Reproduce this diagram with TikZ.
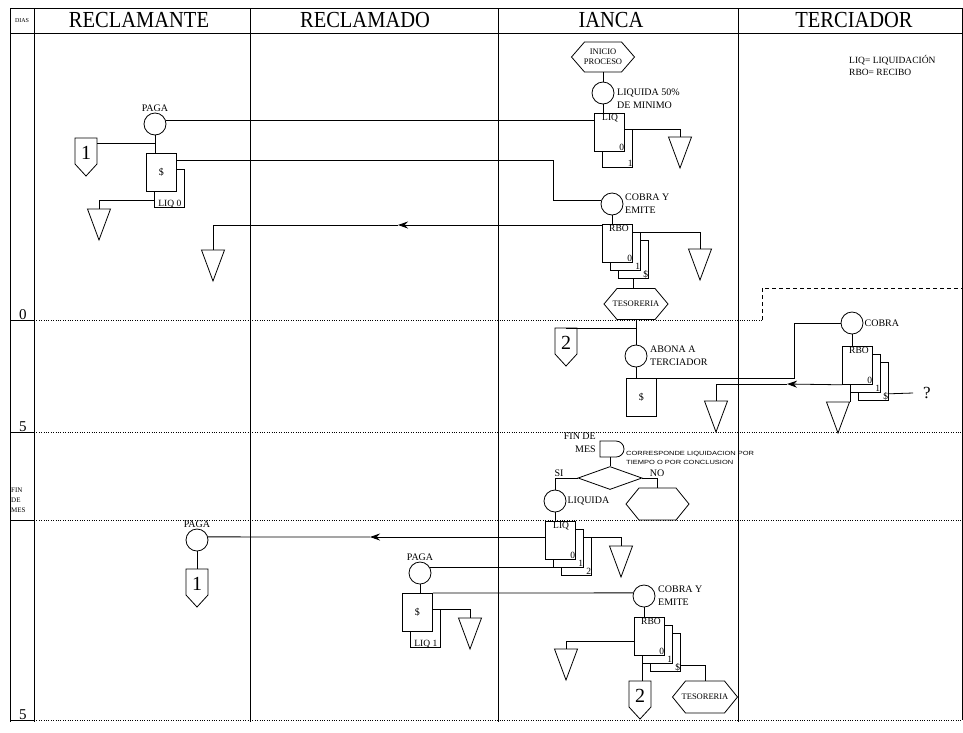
\documentclass[tikz,border=0pt]{standalone}
\usepackage{fontspec}
\usepackage{graphicx}
\setmainfont{Liberation Serif}
\newfontfamily\tinysans[FakeStretch=1.25]{Liberation Sans}
\usetikzlibrary{shapes.geometric,arrows.meta,calc}

\tikzset{
 ln/.style={line width=0.8pt},
 lane/.style={line width=1pt},
 dotl/.style={line width=0.8pt, dash pattern=on 0.8pt off 1.6pt},
 dashl/.style={line width=0.8pt, dash pattern=on 4pt off 3pt},
 circ/.style={draw, circle, minimum size=22pt, inner sep=0pt, line width=0.8pt, fill=white},
 lab/.style={font=\fontsize{10}{13}\selectfont, inner sep=0pt, align=left},
 docl/.style={font=\fontsize{9.5}{10}\selectfont, inner sep=0pt},
 hexf/.style={font=\fontsize{8.5}{10}\selectfont, inner sep=0pt, align=center},
 head/.style={font=\fontsize{20.5}{21}\selectfont, inner sep=0pt},
 big/.style={font=\fontsize{20}{20}\selectfont, inner sep=0pt},
 daynum/.style={font=\fontsize{15}{15}\selectfont, inner sep=0pt},
 arr/.style={line width=0.8pt, -{Stealth[length=10pt,width=7pt]}},
}

\newcommand\TriDown[3]{%
 \coordinate (#1) at (#2,#3);
 \draw[ln,fill=white] ($(#1)+(-11.5,0)$) -- ($(#1)+(11.5,0)$) -- ($(#1)+(0,31)$) -- cycle;}
\newcommand\OffPage[4]{%
 \coordinate (#1) at (#2,#3);
 \draw[ln,fill=white] ($(#1)+(-11,0)$) -- ($(#1)+(11,0)$) -- ($(#1)+(11,26)$) -- ($(#1)+(0,38)$) -- ($(#1)+(-11,26)$) -- cycle;
 \node[big] at ($(#1)+(0,15)$) {#4};}
\newcommand\HexBox[6]{%
 \node[hexf] (#1) at (#2,#3) {#6};
 \coordinate (#1n) at (#2,{#3-#5});
 \coordinate (#1s) at (#2,{#3+#5});
 \draw[ln] ({#2-#4},#3) -- ({#2-#4+13},{#3-#5}) -- ({#2+#4-13},{#3-#5}) -- ({#2+#4},#3) -- ({#2+#4-13},{#3+#5}) -- ({#2-#4+13},{#3+#5}) -- cycle;}
\newcommand\DocStack[6]{%
 \foreach \i in {#4} {\draw[ln,fill=white] ({#2+\i*#5},{#3+\i*#6}) rectangle ++(30,38);}
 \node[draw,ln,fill=white,minimum width=30pt,minimum height=38pt,inner sep=0pt,anchor=north west] (#1) at (#2,#3) {};}
\newcommand\HeadTxt[1]{\scalebox{1}[1.12]{#1}}

\begin{document}
\begin{tikzpicture}[x=1pt,y=-1pt]
\useasboundingbox (0,0) rectangle (963,732);

% ---------- frame and lanes
\draw[lane] (10,8) -- (962,8);
\draw[lane] (10,33) -- (962,33);
\foreach \x in {10,34,250,498,738} \draw[lane] (\x,8) -- (\x,722);
\draw[lane] (962,8) -- (962,720);
\foreach \y in {320,432,520,720} \draw[lane] (10,\y) -- (34,\y);
\draw[dotl] (34,320) -- (762,320);
\draw[dashl] (762,320) -- (762,288) -- (962,288);
\draw[dotl] (34,432) -- (962,432);
\draw[dotl] (34,520) -- (962,520);
\draw[dotl] (34,720) -- (962,720);

% ---------- header
\node[font=\fontsize{6}{6}\selectfont, inner sep=0pt] (hdias) at (22,21) {DIAS};
\node[head] (h1) at (139,20) {\HeadTxt{RECLAMANTE}};
\node[head] (h2) at (365,20) {\HeadTxt{RECLAMADO}};
\node[head] (h3) at (611,20) {\HeadTxt{IANCA}};
\node[head] (h4) at (854,20) {\HeadTxt{TERCIADOR}};

% ---------- days
\node[daynum, anchor=base] (d0) at (23,319) {0};
\node[daynum, anchor=base] (d5a) at (23,431) {5};
\node[daynum, anchor=base] (d5b) at (23,719) {5};
\node[font=\fontsize{7}{10}\selectfont, anchor=north west, inner sep=0pt, align=left] (dfin) at (11,488) {FIN\\DE\\MES};

% ---------- legend
\node[font=\fontsize{9.5}{12}\selectfont, anchor=north west, align=left, inner sep=0pt] (legend) at (849,55) {LIQ= LIQUIDACIÓN\\RBO= RECIBO};

% ---------- RECLAMANTE (top)
\node[circ] (pagaA) at (155,124) {};
\node[lab, anchor=south] at ([yshift=1pt]pagaA.north) {PAGA};
\DocStack{payA}{146}{153}{1}{8.5}{16}
\node[lab] at (payA.center) {\$};
\node[docl, anchor=base] at ([xshift=8.5pt,yshift=-15pt]payA.south) {LIQ~0};
\OffPage{offA}{86}{138}{1}
\TriDown{triA}{99}{209}
\TriDown{triB}{213}{250}

% ---------- IANCA (top)
\HexBox{ini}{603}{57}{31.5}{15}{INICIO\\PROCESO}
\node[circ] (liq50) at (603,93) {};
\node[lab, anchor=north west] at (617,89) {LIQUIDA 50\%\\DE MINIMO};
\DocStack{liqA}{594}{113}{1}{8.5}{16}
\node[docl, anchor=north west] at ([xshift=8pt,yshift=-1pt]liqA.north west) {LIQ};
\node[docl, anchor=base east] at ([xshift=-0.5pt,yshift=1pt]liqA.south east) {0};
\node[docl, anchor=base east] at ([xshift=8pt,yshift=-15pt]liqA.south east) {1};
\TriDown{triC}{680}{137}

\node[circ] (cobA) at (612,204) {};
\node[lab, anchor=north west] at (625,194) {COBRA Y\\EMITE};
\DocStack{rboA}{602}{224}{2,1}{8}{8}
\node[docl, anchor=north west] at ([xshift=7pt,yshift=-1pt]rboA.north west) {RBO};
\node[docl, anchor=base east] at ([xshift=-0.5pt,yshift=1pt]rboA.south east) {0};
\node[docl, anchor=base east] at ([xshift=7.5pt,yshift=-7pt]rboA.south east) {1};
\node[docl, anchor=base east] at ([xshift=15.5pt,yshift=-15pt]rboA.south east) {\$};
\TriDown{triD}{700}{249}
\HexBox{tesA}{636}{304}{32}{15.5}{TESORERIA}
\OffPage{offB}{566}{328}{2}
\node[circ] (abona) at (636,356) {};
\node[lab, anchor=north west] at (650,346) {ABONA A\\TERCIADOR};
\node[draw, ln, fill=white, minimum width=30pt, minimum height=38pt, inner sep=0pt, anchor=north west] (payB) at (626,378) {};
\node[lab] at (payB.center) {\$};
\TriDown{triE}{716}{401}

% ---------- TERCIADOR
\node[circ] (cobT) at (852,323) {};
\node[lab, anchor=west] at ([xshift=1pt]cobT.east) {COBRA};
\DocStack{rboT}{842}{346}{2,1}{8}{8}
\node[docl, anchor=north west] at ([xshift=7pt,yshift=-1pt]rboT.north west) {RBO};
\node[docl, anchor=base east] at ([xshift=-0.5pt,yshift=1pt]rboT.south east) {0};
\node[docl, anchor=base east] at ([xshift=7.5pt,yshift=-7pt]rboT.south east) {1};
\node[docl, anchor=base east] at ([xshift=15.5pt,yshift=-15pt]rboT.south east) {\$};
\TriDown{triF}{838}{402}
\node[font=\fontsize{17}{17}\selectfont, inner sep=0pt] (q) at (927,393) {?};

% ---------- FIN DE MES
\node[lab, anchor=north east, align=right] (finlbl) at (596,433) {FIN DE\\MES};
\draw[ln] (600,441) -- (616,441) arc[start angle=90,end angle=-90,radius=8pt] -- (600,457) -- cycle;
\coordinate (dly) at (610,457);
\node[anchor=north west, inner sep=0pt, align=left, font=\tinysans\fontsize{6}{9}\selectfont] (cond) at (626,451) {CORRESPONDE LIQUIDACION POR\\TIEMPO O POR CONCLUSION};
\node[diamond, draw, ln, minimum width=64pt, minimum height=23pt, inner sep=0pt] (dec) at (610,478) {};
\node[lab, anchor=south] at (559,477) {SI};
\node[lab, anchor=south] at (657,477) {NO};
\node[circ] (liqd) at (555,501) {};
\node[lab, anchor=west] at ([xshift=1pt]liqd.east) {LIQUIDA};
\HexBox{hexno}{657.5}{504}{31.5}{16}{}
\DocStack{liqB}{545}{521}{2,1}{8}{8}
\node[docl, anchor=north west] at ([xshift=8pt,yshift=-1pt]liqB.north west) {LIQ};
\node[docl, anchor=base east] at ([xshift=-0.5pt,yshift=1pt]liqB.south east) {0};
\node[docl, anchor=base east] at ([xshift=7.5pt,yshift=-7pt]liqB.south east) {1};
\node[docl, anchor=base east] at ([xshift=15.5pt,yshift=-15pt]liqB.south east) {2};
\TriDown{triG}{621}{546}

% ---------- lower part
\node[circ] (pagaB) at (197,540) {};
\node[lab, anchor=south] at ([yshift=1pt]pagaB.north) {PAGA};
\OffPage{offC}{197}{569}{1}
\node[circ] (pagaC) at (420,573) {};
\node[lab, anchor=south] at ([yshift=1pt]pagaC.north) {PAGA};
\DocStack{payC}{402}{593}{1}{8.5}{16}
\node[lab] at (payC.center) {\$};
\node[docl, anchor=base] at ([xshift=8.5pt,yshift=-15pt]payC.south) {LIQ~1};
\TriDown{triH}{470}{618}
\node[circ] (cobB) at (644,596) {};
\node[lab, anchor=north west] at (658,586) {COBRA Y\\EMITE};
\DocStack{rboB}{634}{617}{2,1}{8}{8}
\node[docl, anchor=north west] at ([xshift=7pt,yshift=-1pt]rboB.north west) {RBO};
\node[docl, anchor=base east] at ([xshift=-0.5pt,yshift=1pt]rboB.south east) {0};
\node[docl, anchor=base east] at ([xshift=7.5pt,yshift=-7pt]rboB.south east) {1};
\node[docl, anchor=base east] at ([xshift=15.5pt,yshift=-15pt]rboB.south east) {\$};
\TriDown{triI}{566}{649}
\OffPage{offD}{640}{681}{2}
\HexBox{tesB}{705}{697}{32.5}{16}{TESORERIA}

% ---------- connectors
\coordinate (offAr) at ([xshift=11pt,yshift=-5pt]offA);
\coordinate (payAr) at ([yshift=-7pt]payA.north east);
\coordinate (jA) at (553,160);
\coordinate (payAb) at ([xshift=8.5pt,yshift=-9pt]payA.south west);
\coordinate (rboAl) at ([yshift=-1pt]rboA.north west);
\coordinate (arrA) at (398,225);
\coordinate (liqAb) at ([xshift=8.5pt,yshift=-16pt]liqA.north east);
\coordinate (rboAb1) at ([xshift=8pt,yshift=-8pt]rboA.north east);
\coordinate (rboAb2) at ([xshift=16pt,yshift=-16pt]rboA.south);
\coordinate (jB) at (636,328);
\coordinate (jC) at (794,378);
\coordinate (arrT) at (787,384);
\coordinate (rboTb) at ([xshift=8pt,yshift=-8pt]rboT.south west);
\coordinate (rboTq) at ([xshift=16pt,yshift=-9pt]rboT.south east);
\coordinate (liqBt) at ([xshift=16pt,yshift=-16pt]liqB.north east);
\coordinate (liqBl) at ([yshift=-16pt]liqB.north west);
\coordinate (arrB) at (370,537);
\coordinate (liqBb) at ([xshift=8pt,yshift=-8pt]liqB.south west);
\coordinate (payCb) at ([xshift=8.5pt,yshift=-16pt]payC.north east);
\coordinate (rboBl) at ([yshift=-24pt]rboB.north west);
\coordinate (rboBb) at ([xshift=8pt,yshift=-8pt]rboB.south west);
\coordinate (rboBr) at ([xshift=16pt,yshift=-48pt]rboB.north east);

\draw[ln] (pagaA.18) -- (pagaA.18 -| liqA.west);
\draw[ln] (pagaA.south) -- (pagaA.south |- payA.north);
\draw[ln] (offAr) -- (offAr -| pagaA);
\draw[ln] (payAr) -- (jA) |- (cobA.164);
\draw[ln] (payAb) -| (triA);
\draw[arr] (rboAl) -- (arrA);
\draw[ln] (arrA) -| (triB);
\draw[ln] (inis) -- (liq50.north);
\draw[ln] (liq50.south) -- (liq50.south |- liqA.north);
\draw[ln] (liqAb) -| (triC);
\draw[ln] (cobA.south) -- (cobA.south |- rboA.north);
\draw[ln] (rboAb1) -| (triD);
\draw[ln] (rboAb2) -- (rboAb2 |- tesAn);
\draw[ln] (tesAs) -- (abona.north);
\draw[ln] (jB) -- (jB -| offB);
\draw[ln] (abona.south) -- (abona.south |- payB.north);
\draw[ln] (payB.north east) -- (jC) |- (cobT.west);
\draw[arr] (rboT.south west) -- (arrT);
\draw[ln] (arrT) -| (triE);
\draw[ln] (cobT.south) -- (cobT.south |- rboT.north);
\draw[ln] (rboTb) -- (rboTb |- triF);
\draw[ln] (rboTq) -- ([xshift=-10pt]q.west);
\draw[ln] (dly) -- (dec.north);
\draw[ln] (dec.west) -| (liqd.north);
\draw[ln] (dec.east) -| (hexnon);
\draw[ln] (liqd.south) -- (liqd.south |- liqB.north);
\draw[ln] (liqBt) -| (triG);
\draw[arr] (liqBl) -- (arrB);
\draw[ln] (arrB) -- (pagaB.16);
\draw[ln] (pagaB.south) -- (offC);
\draw[ln] (pagaC.27) -- (pagaC.27 -| liqBb);
\draw[ln] (pagaC.south) -- (pagaC.south |- payC.north);
\draw[ln] (payC.north east) -- (cobB.164);
\draw[ln] (payCb) -| (triH);
\draw[ln] (cobB.south) -- (cobB.south |- rboB.north);
\draw[ln] (rboBl) -| (triI);
\draw[ln] (rboBb) -- (rboBb |- offD);
\draw[ln] (rboBr) -| (tesBn);
\end{tikzpicture}
\end{document}
